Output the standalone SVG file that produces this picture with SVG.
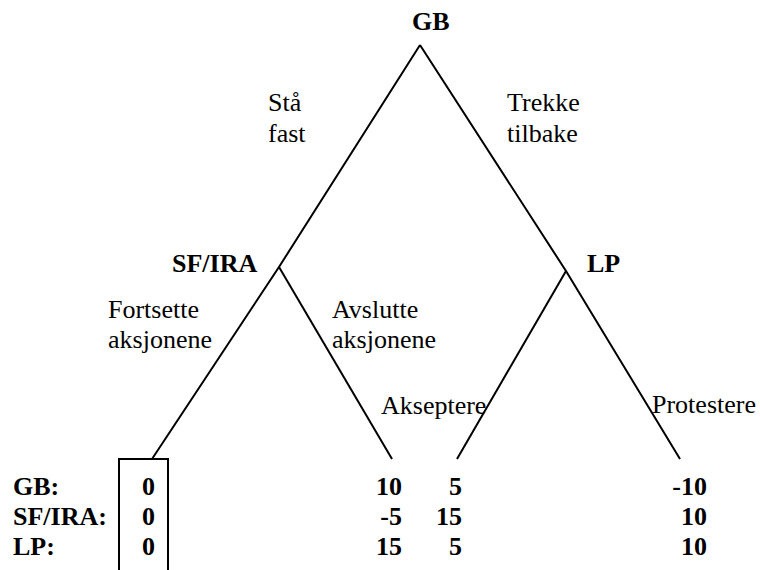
<svg xmlns="http://www.w3.org/2000/svg" width="760" height="570" viewBox="0 0 760 570">
<style>
text{font-family:"Liberation Serif","Times New Roman",serif;font-size:26px;fill:#000}
.b{font-weight:bold}
.r{text-anchor:end}
.ln{stroke:#000;stroke-width:2;fill:none}
</style>
<rect width="760" height="570" fill="#fff"/>
<g id="connectors">
<path class="ln" d="M420,45 L279,267 L152,459"/>
<path class="ln" d="M420,45 L566,271 L680,459"/>
<path class="ln" d="M279,267 L392,459"/>
<path class="ln" d="M566,271 L457,459"/>
<text x="268" y="111">Stå</text>
<text x="268" y="142">fast</text>
<text x="507" y="111">Trekke</text>
<text x="507" y="142">tilbake</text>
<text x="108" y="318">Fortsette</text>
<text x="108" y="348">aksjonene</text>
<text x="332" y="318">Avslutte</text>
<text x="332" y="348">aksjonene</text>
<text x="381" y="414">Akseptere</text>
<text x="652" y="413">Protestere</text>
</g>
<g id="node-gb"><text class="b" x="412" y="30">GB</text></g>
<g id="node-sfira"><text class="b" x="172" y="272">SF/IRA</text></g>
<g id="node-lp"><text class="b" x="587" y="272">LP</text></g>
<g id="payoff-labels">
<text class="b" x="13" y="495">GB:</text>
<text class="b" x="13" y="525">SF/IRA:</text>
<text class="b" x="13" y="555">LP:</text>
</g>
<g id="payoff-1">
<path class="ln" d="M119,575 L119,459 L168,459 L168,575"/>
<text class="b r" x="155" y="495">0</text>
<text class="b r" x="155" y="525">0</text>
<text class="b r" x="155" y="555">0</text>
</g>
<g id="payoff-2">
<text class="b r" x="402" y="495">10</text>
<text class="b r" x="402" y="525">-5</text>
<text class="b r" x="402" y="555">15</text>
</g>
<g id="payoff-3">
<text class="b r" x="462" y="495">5</text>
<text class="b r" x="462" y="525">15</text>
<text class="b r" x="462" y="555">5</text>
</g>
<g id="payoff-4">
<text class="b r" x="707" y="495">-10</text>
<text class="b r" x="707" y="525">10</text>
<text class="b r" x="707" y="555">10</text>
</g>
</svg>
